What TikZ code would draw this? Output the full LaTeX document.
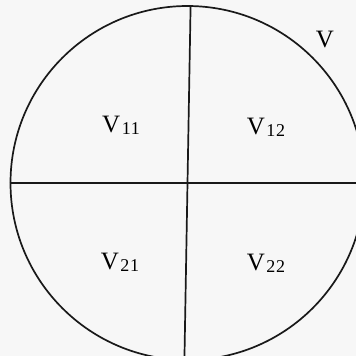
\documentclass[tikz,border=0pt]{standalone}
\usepackage{fontspec}
\setmainfont{Liberation Serif}
\usetikzlibrary{positioning}

\newcommand{\Vpart}[1]{V\kern1.5pt{\fontsize{18}{18}\selectfont\addfontfeatures{LetterSpace=4}\raisebox{-2pt}{#1}}}

\begin{document}
\begin{tikzpicture}[
  x=1pt, y=-1pt,
  font=\fontsize{25}{25}\selectfont,
  region/.style={draw=black!90, line width=1.7pt, circle, inner sep=0pt, minimum size=354pt},
  divider/.style={draw=black!90, line width=1.7pt},
  part/.style={inner sep=1pt, text=black},
]
  \useasboundingbox[fill=black!3] (0,0) rectangle (356,356);
  \begin{scope}
    \clip (0,0) rectangle (356,356);
    \node[region] (disk) at (187.5,183) {};
    \draw[divider] (disk.89.4) -- (disk.269.4);
    \draw[divider] (disk.west) -- (disk.east);
  \end{scope}

  \node[part] (v11) at (121,125) {\Vpart{11}};
  \node[part] (v12) at (266,127) {\Vpart{12}};
  \node[part] (v21) at (120,262) {\Vpart{21}};
  \node[part] (v22) at (266,263) {\Vpart{22}};
  \node[part] (v) at (325,40) {V};
\end{tikzpicture}
\end{document}
